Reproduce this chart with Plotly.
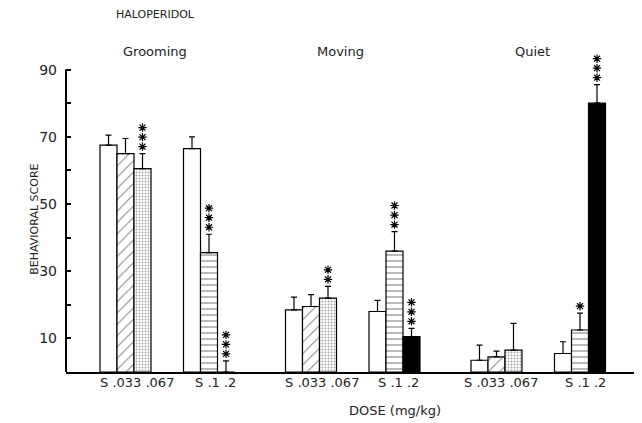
import plotly.graph_objects as go

behaviors = ["Grooming", "Moving", "Quiet"]
doses_a = ["S", ".033", ".067"]
doses_b = ["S", ".1", ".2"]

# values per behavior: [S, .033, .067, S, .1, .2]
means = {
    "Grooming": [67.5, 65.0, 60.5, 66.5, 35.5, 0.0],
    "Moving":   [18.5, 19.5, 22.0, 18.0, 36.0, 10.5],
    "Quiet":    [3.5, 4.5, 6.5, 5.5, 12.5, 80.0],
}
errors = {
    "Grooming": [3.0, 4.5, 4.5, 3.5, 5.5, 3.3],
    "Moving":   [3.8, 3.5, 3.5, 3.3, 5.8, 2.5],
    "Quiet":    [4.5, 1.7, 8.0, 3.5, 5.0, 5.5],
}
stars = {
    "Grooming": [0, 0, 3, 0, 3, 3],
    "Moving":   [0, 0, 2, 0, 3, 3],
    "Quiet":    [0, 0, 0, 0, 1, 3],
}

dose_names = doses_a + doses_b
styles = [
    dict(bg="white", shape="", fg="black"),
    dict(bg="white", shape="/", fg="black", size=8, sol=0.12),
    dict(bg="white", shape=".", fg="#444", size=3, sol=0.3),
    dict(bg="white", shape="", fg="black"),
    dict(bg="white", shape="-", fg="black", size=6, sol=0.18),
    dict(bg="black", shape="", fg="black"),
]

FONT = "DejaVu Sans"
W = 17
beh_start = [100, 285.5, 471]
sub_off = [0, 83.5]
sub_label_x = [[137, 215], [322, 398], [501, 585]]
PX = 302 / 90.0  # pixels per data unit on y
YMAX = 100.0

fig = go.Figure()
annotations = []
star_x, star_y = [], []
for bi, b in enumerate(behaviors):
    for si in range(6):
        sub = si // 3
        k = si % 3
        xc = beh_start[bi] + sub_off[sub] + k * W + W / 2
        st = styles[si]
        pat = dict(shape=st["shape"], fgcolor=st["fg"], bgcolor=st["bg"])
        if st["shape"]:
            pat["size"] = st["size"]
            pat["solidity"] = st["sol"]
        v = means[b][si]
        e = errors[b][si]
        fig.add_trace(go.Bar(
            x=[xc], y=[v], width=W,
            marker=dict(color=st["bg"], line=dict(color="black", width=1.2), pattern=pat),
            error_y=dict(type="data", symmetric=False, array=[e], arrayminus=[0],
                         color="black", thickness=1.2, width=3),
            showlegend=False, hoverinfo="skip",
        ))
        for j in range(stars[b][si]):
            star_x.append(xc)
            star_y.append(v + e + (7 + 9.5 * j) / PX)
    for sub in range(2):
        txt = " ".join(doses_a if sub == 0 else doses_b)
        annotations.append(dict(x=sub_label_x[bi][sub], y=-3.0 / YMAX, xref="x", yref="paper",
                                yanchor="middle", text=txt, showarrow=False, xanchor="center",
                                font=dict(size=13, color="#222", family=FONT)))

fig.add_trace(go.Scatter(
    x=star_x, y=star_y, mode="markers",
    marker=dict(symbol="asterisk-open", size=7, color="black", line=dict(color="black", width=1.2)),
    showlegend=False, hoverinfo="skip", cliponaxis=False,
))

label_x = [155, 340, 532]
for b, lx in zip(behaviors, label_x):
    annotations.append(dict(x=lx, y=95.4 / YMAX, xref="x", yref="paper", yanchor="middle",
                            text=b, showarrow=False, xanchor="center",
                            font=dict(size=13, color="#222", family=FONT)))
annotations.append(dict(x=155, y=106.4 / YMAX, xref="x", yref="paper", yanchor="middle",
                        text="HALOPERIDOL", showarrow=False, xanchor="center",
                        font=dict(size=11, color="#222", family=FONT)))
annotations.append(dict(x=395, y=-11.6 / YMAX, xref="x", yref="paper", yanchor="middle",
                        text="DOSE (mg/kg)", showarrow=False, xanchor="center",
                        font=dict(size=13, color="#222", family=FONT)))
annotations.append(dict(x=0, y=45.3 / YMAX, xref="paper", yref="paper", xanchor="center",
                        yanchor="middle", xshift=-31, text="BEHAVIORAL SCORE", textangle=-90,
                        showarrow=False, font=dict(size=11, color="#222", family=FONT)))

ytick_vals = [10, 20, 30, 40, 50, 60, 70, 80, 90]
ytick_text = ["10", "", "30", "", "50", "", "70", "", "90"]

# y axis line only up to 90
shapes = [dict(type="line", xref="paper", yref="y", x0=0, x1=0, y0=0, y1=90,
               line=dict(color="black", width=2))]

fig.update_layout(
    width=634, height=415,
    margin=dict(l=58, r=6, t=28.4, b=51),
    paper_bgcolor="white", plot_bgcolor="white",
    barmode="overlay",
    annotations=annotations,
    shapes=shapes,
    font=dict(family=FONT, color="#222"),
    xaxis=dict(range=[66, 636], showticklabels=False, showgrid=False,
               zeroline=False, showline=True, linecolor="black", linewidth=1.5, ticks=""),
    yaxis=dict(range=[0, YMAX], tickvals=ytick_vals, ticktext=ytick_text, showgrid=False,
               zeroline=False, showline=False,
               ticks="inside", ticklen=5, tickcolor="black", tickwidth=1.5,
               ticklabelstandoff=8,
               tickfont=dict(size=14, color="#222")),
)

fig.write_html("out.html")
